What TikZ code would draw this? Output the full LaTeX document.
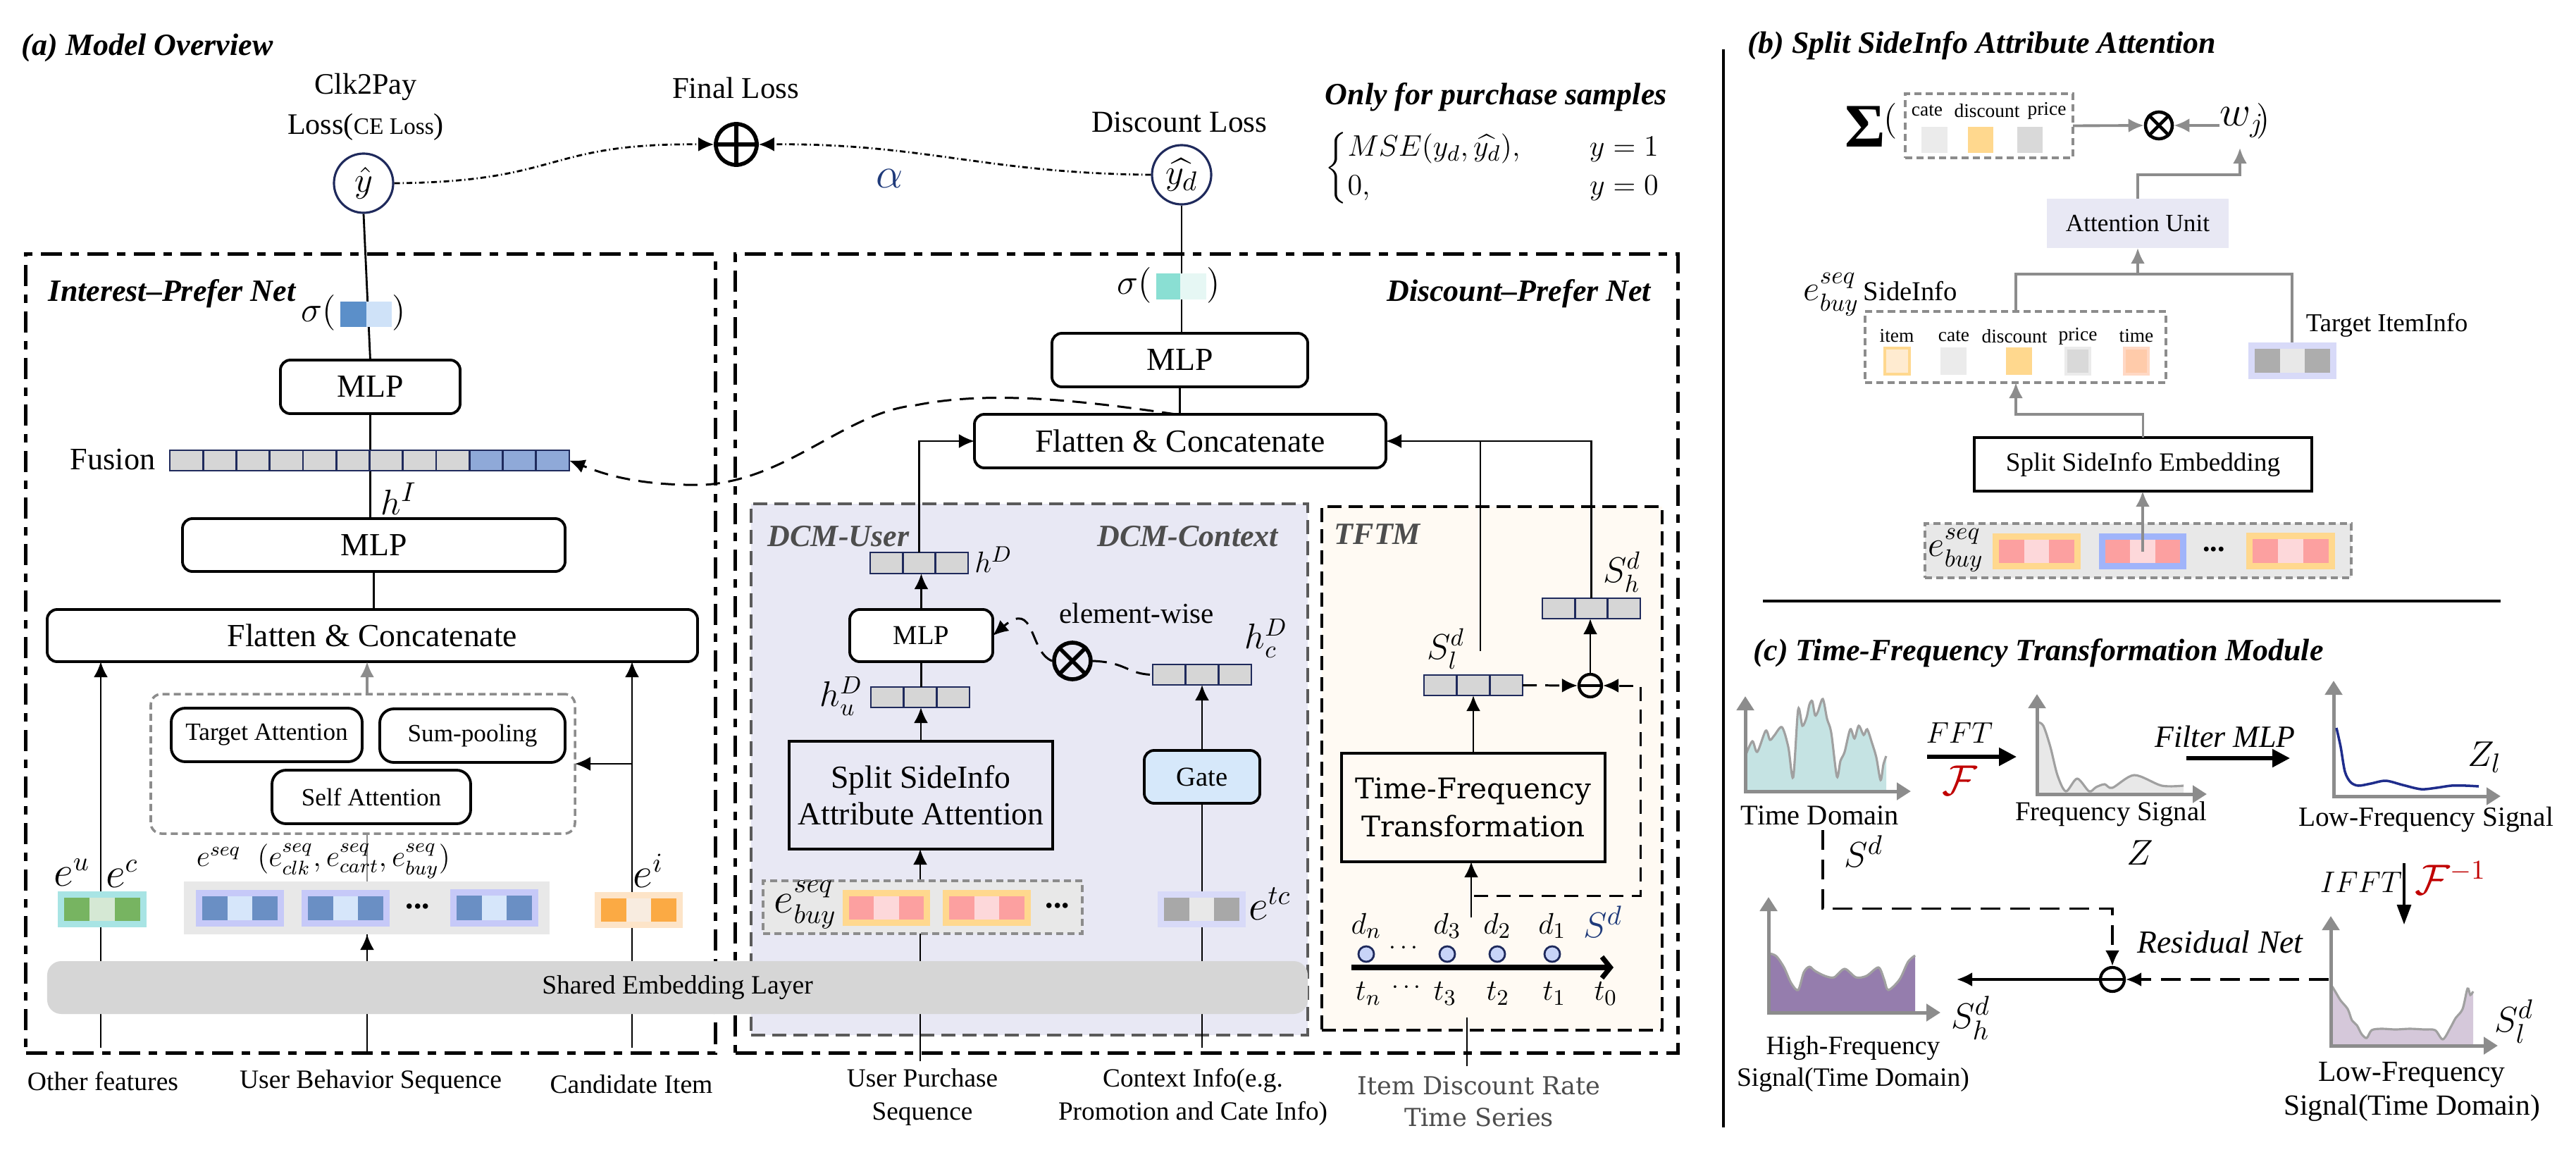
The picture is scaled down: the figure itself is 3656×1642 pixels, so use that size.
\documentclass[tikz,border=0pt]{standalone}
\usepackage{amsmath}
\usepackage{fontspec}
\setmainfont{Liberation Serif}
\newfontfamily\dvs{DejaVu Serif}
\usetikzlibrary{arrows.meta,calc}
\definecolor{navy}{HTML}{1F2A5C}
\definecolor{gline}{HTML}{8C8C8C}
\definecolor{dcmfill}{HTML}{E8E8F4}
\definecolor{dcmline}{HTML}{5A5A5A}
\definecolor{tftfill}{HTML}{FFFAF3}
\definecolor{cellgrey}{HTML}{D6D6D6}
\definecolor{fusblue}{HTML}{8FA9D8}
\definecolor{darkg}{HTML}{4D4D4D}
\definecolor{fred}{HTML}{C00000}
\definecolor{alphac}{HTML}{1F3A7A}
\definecolor{sigblue}{HTML}{5B8FC9}
\definecolor{siglight}{HTML}{CFE2F8}
\definecolor{sigteal}{HTML}{8ADFD3}
\definecolor{sigtl}{HTML}{E6F7F4}
\definecolor{ucyan}{HTML}{A8E4E4}
\definecolor{ugreen}{HTML}{77B461}
\definecolor{ulgreen}{HTML}{D5E8D4}
\definecolor{sqout}{HTML}{C6C9F8}
\definecolor{sqblue}{HTML}{6A8FC4}
\definecolor{sqlight}{HTML}{D6E6FA}
\definecolor{orout}{HTML}{FDE4C8}
\definecolor{orng}{HTML}{FBAA44}
\definecolor{orlight}{HTML}{F8ECE0}
\definecolor{pkout}{HTML}{FFD88E}
\definecolor{pink1}{HTML}{FCA0A0}
\definecolor{pklight}{HTML}{FDD8DA}
\definecolor{tcout}{HTML}{D8DAF8}
\definecolor{tcgrey}{HTML}{A8A8A8}
\definecolor{tclight}{HTML}{E8E8E8}
\definecolor{bgbar}{HTML}{E8E8E8}
\definecolor{embg}{HTML}{D6D6D6}
\definecolor{gatef}{HTML}{D6E8FA}
\definecolor{dotf}{HTML}{C8D4F8}
\definecolor{bbout}{HTML}{A0B4FA}
\definecolor{tdfill}{HTML}{C5E3E3}
\definecolor{curveg}{HTML}{A0A0A0}
\definecolor{fqfill}{HTML}{E8E8E8}
\definecolor{lfcurve}{HTML}{1F2D8C}
\definecolor{hffill}{HTML}{957DAD}
\definecolor{lffill}{HTML}{D5C8DA}
\definecolor{cEB}{HTML}{EBEBEB}
\definecolor{cD9}{HTML}{D9D9D9}
\definecolor{itemf}{HTML}{FFEBD0}
\definecolor{timef}{HTML}{FFCBAA}
\definecolor{timeb}{HTML}{FFD8C4}
\definecolor{tgtg}{HTML}{ADADAD}
\newcommand\fs[1]{\fontsize{#1}{#1}\selectfont}
% [style]{name}{x1}{y1}{x2}{y2}{text}
\newcommand\bx[7][]{%
  \pgfmathsetmacro\bxw{(#5-(#3))*0.01}%
  \pgfmathsetmacro\bxh{(#6-(#4))*0.01}%
  \node[inner sep=0pt, outer sep=0pt, minimum width=\bxw cm, minimum height=\bxh cm, #1] (#2) at ({(#3+#5)/2},{(#4+#6)/2}) {#7};}
% {name}{x1}{y1}{x2}{y2}{outer}{side}{mid}
\newcommand\blk[8]{%
  \bx[fill=#6]{#1}{#2}{#3}{#4}{#5}{}%
  \pgfmathsetmacro\bkw{(#4-(#2)-18)/3}%
  \pgfmathsetmacro\bkh{#5-(#3)-18}%
  \fill[#7] ({#2+9},{#3+9}) rectangle ++(\bkw,\bkh);
  \fill[#8] ({#2+9+\bkw},{#3+9}) rectangle ++(\bkw,\bkh);
  \fill[#7] ({#2+9+2*\bkw},{#3+9}) rectangle ++(\bkw,\bkh);}
% {name}{x1}{y1}{x2}{y2}{n-1}{fill}
\newcommand\vbar[7]{%
  \bx[draw=navy, line width=0.8pt, fill=#7]{#1}{#2}{#3}{#4}{#5}{}%
  \pgfmathsetmacro\vbw{(#4-(#2))/(#6+1)}%
  \foreach \k in {1,...,#6} {\draw[navy, line width=0.8pt] ({#2+\k*\vbw},#3) -- ({#2+\k*\vbw},#5);}}
\begin{document}
\begin{tikzpicture}[x=0.01cm,y=-0.01cm,
  every node/.append style={inner sep=1.2pt},
  >={Latex[length=0.22cm,width=0.2cm]},
  rbox/.style={draw, line width=1.1pt, rounded corners=0.14cm, fill=white},
  arr/.style={->, line width=0.8pt},
  garr/.style={->, line width=1.1pt, gline},
  ddot/.style={line width=0.8pt, dash pattern=on 0.08cm off 0.04cm on 0.015cm off 0.04cm},
  dsh/.style={line width=0.85pt, dash pattern=on 0.2cm off 0.12cm},
  dshc/.style={line width=0.9pt, dash pattern=on 0.28cm off 0.14cm},
  gdash/.style={draw=gline, line width=1pt, dash pattern=on 0.1cm off 0.06cm},
  outerbox/.style={draw, line width=0.05cm, dash pattern=on 0.3cm off 0.12cm on 0.12cm off 0.12cm},
  axis/.style={line width=0.05cm, gline, {Triangle[length=0.2cm,width=0.24cm]}-{Triangle[length=0.2cm,width=0.24cm]}},
  opnode/.style={circle, draw, line width=1.6pt, inner sep=0pt},
  bi/.style={font={\fs{12.5}\bfseries\itshape}},
]
\useasboundingbox (0,0) rectangle (3656,1642);
\fill[white] (0,0) rectangle (3656,1642);

%================ top of (a)
\node[anchor=west, bi] (ta) at (26,68) {(a) Model Overview};
\node[font=\fs{12}] (clk) at (519,123) {Clk2Pay};
\node[font=\fs{12}] (clk2) at (519,180) {Loss({\fs{9.5}CE Loss})};
\node[circle, draw=navy, line width=0.9pt, minimum size=0.84cm, inner sep=0pt, font=\fs{15}] (yhat) at (516,260) {$\hat{y}$};
\node[font=\fs{12.2}] (flab) at (1044,125) {Final Loss};
\node[opnode, minimum size=0.58cm] (oplus) at (1045,205) {};
\draw[line width=1.6pt] (oplus.north) -- (oplus.south) (oplus.west) -- (oplus.east);
\node[font=\fs{16}, text=alphac] (alpha) at (1263,253) {$\alpha$};
\node[font=\fs{12.3}] (dlab) at (1674,173) {Discount Loss};
\node[circle, draw=navy, line width=0.9pt, minimum size=0.84cm, inner sep=0pt, font=\fs{15}] (yd) at (1677,248) {$\widehat{y_d}$};
\draw[ddot, ->] (yhat.east) .. controls (800,258) and (770,203) .. (oplus.west);
\draw[ddot, ->] (yd.west) .. controls (1400,246) and (1310,203) .. (oplus.east);
\node[anchor=west, bi] (ofp) at (1876,138) {Only for purchase samples};
\node[anchor=west, font=\fs{13}] (cases) at (1876,238) {$\begin{cases} MSE(y_d,\widehat{y_d}), & \quad\, y=1\\ 0, & \quad\, y=0\end{cases}$};

%================ Interest-Prefer Net
\bx[outerbox]{ibox}{37}{361}{1015}{1494}{}
\node[anchor=west, bi] (ipn) at (64,417) {Interest--Prefer Net};
\bx[rbox, font=\fs{13}]{mlp1}{398}{511}{653}{587}{MLP}
\bx[rbox, font=\fs{13}]{mlp2}{259}{736}{802}{811}{MLP}
\bx[rbox, font=\fs{13}]{fc1}{67}{865}{990}{939}{Flatten \& Concatenate}
\draw[line width=0.8pt] (yhat.south) -- (mlp1.north);
\draw[line width=0.8pt] (mlp1.south) -- (mlp1.south |- mlp2.north);
\draw[line width=0.8pt] (mlp2.south) -- (mlp2.south |- fc1.north);
\node[font=\fs{14}, anchor=east] (sig1) at (482,444) {$\sigma($};
\bx{s1}{483}{428}{556}{464}{}
\fill[sigblue] (483,428) rectangle (520,464);
\fill[siglight] (520,428) rectangle (556,464);
\node[font=\fs{14}] (sig1r) at (566,444) {$)$};
\node[font=\fs{12.6}] (fus) at (160,652) {Fusion};
\bx{fbar}{241}{639}{808}{668}{}
\foreach \k in {0,...,11} {\pgfmathsetmacro\xa{241+\k*47.25}\ifnum\k<9 \def\cc{cellgrey}\else\def\cc{fusblue}\fi
  \filldraw[fill=\cc, draw=navy, line width=0.8pt] (\xa,639) rectangle ++(47.25,29);}
\node[font=\fs{15}] (hI) at (566,708) {$h^I$};
\bx[gdash, rounded corners=0.15cm]{gbox}{214}{985}{816}{1183}{}
\bx[rbox, rounded corners=0.2cm, font=\fs{10}]{tatt}{243}{1005}{514}{1081}{Target Attention}
\bx[rbox, rounded corners=0.2cm, font=\fs{10}]{spool}{539}{1006}{802}{1082}{Sum-pooling}
\bx[rbox, rounded corners=0.2cm, font=\fs{10}]{satt}{386}{1093}{668}{1169}{Self Attention}
\coordinate (of) at (143,1487);
\coordinate (ub) at (521,1494);
\coordinate (ci) at (897,1487);
\draw[arr] (of) -- (of |- fc1.south);
\draw[arr] (ci) -- (ci |- fc1.south);
\draw[arr] (ci |- gbox.east) -- (gbox.east);
\draw[line width=0.8pt] (ub) -- (ub |- gbox.south);
\draw[gline, line width=0.8pt] (ub |- gbox.south) -- ++(0,68);
\draw[garr] (ub |- gbox.north) -- (ub |- fc1.south);
\node[font=\fs{16}] (eu) at (102,1238) {$e^u$};
\node[font=\fs{16}] (ec) at (173,1240) {$e^c$};
\node[font=\fs{12}, anchor=west] (eseq) at (274,1222) {$e^{seq}\;\;(e^{seq}_{clk},e^{seq}_{cart},e^{seq}_{buy})$};
\node[font=\fs{16}] (ei) at (920,1236) {$e^i$};
\blk{bu}{82}{1265}{208}{1316}{ucyan}{ugreen}{ulgreen}
\bx[fill=bgbar]{sqbar}{261}{1251}{780}{1326}{}
\blk{sq1}{278}{1263}{403}{1315}{sqout}{sqblue}{sqlight}
\blk{sq2}{428}{1263}{553}{1315}{sqout}{sqblue}{sqlight}
\blk{sq3}{639}{1262}{764}{1315}{sqout}{sqblue}{sqlight}
\node[font=\fs{13}\bfseries] (sqd) at (593,1286) {...};
\blk{bi}{844}{1266}{969}{1317}{orout}{orng}{orlight}

%================ Discount-Prefer Net
\bx[outerbox]{dbox}{1044}{361}{2381}{1494}{}
\node[anchor=east, bi] (dpn) at (2348,417) {Discount--Prefer Net};
\bx[rbox, font=\fs{13}]{mlp3}{1493}{473}{1856}{549}{MLP}
\bx[rbox, font=\fs{13}]{fc2}{1383}{588}{1967}{664}{Flatten \& Concatenate}
\draw[line width=0.8pt] (yd.south) -- (yd.south |- mlp3.north);
\draw[line width=0.8pt] (mlp3.south) -- (mlp3.south |- fc2.north);
\node[font=\fs{14}, anchor=east] (sig2) at (1640,405) {$\sigma($};
\bx{s2}{1641}{388}{1712}{425}{}
\fill[sigteal] (1641,388) rectangle (1675,425);
\fill[sigtl] (1675,388) rectangle (1712,425);
\node[font=\fs{14}] (sig2r) at (1722,405) {$)$};
\draw[dsh, ->] (1669,588) .. controls (1520,566) and (1400,555) .. (1300,575) .. controls (1200,585) and (1120,680) .. (1000,688) .. controls (900,690) and (850,670) .. (fbar.east);

\bx[fill=dcmfill, draw=dcmline, line width=1.2pt, dash pattern=on 0.2cm off 0.1cm]{dcm}{1066}{715}{1856}{1469}{}
\node[anchor=west, text=darkg, bi] (dcmu) at (1085,761) {DCM-User};
\node[anchor=east, text=darkg, bi] (dcmc) at (1819,761) {DCM-Context};
\bx[fill=tftfill, draw, line width=1.3pt, dash pattern=on 0.2cm off 0.1cm]{tftm}{1876}{719}{2359}{1462}{}
\node[anchor=west, text=darkg, bi] (tftml) at (1889,758) {TFTM};

\vbar{hD}{1235}{784}{1374}{814}{2}{cellgrey}
\node[font=\fs{13}] (hDl) at (1410,794) {$h^D$};
\bx[rbox, font=\fs{11}]{mlp4}{1206}{865}{1409}{939}{MLP}
\node[font=\fs{11.7}] (ew) at (1613,870) {element-wise};
\node[opnode, minimum size=0.52cm] (otimes) at (1522,938) {};
\draw[line width=1.6pt] (otimes.45) -- (otimes.225) (otimes.135) -- (otimes.315);
\vbar{hc}{1636}{943}{1776}{972}{2}{cellgrey}
\node[font=\fs{14}] (hcl) at (1797,906) {$h_c^D$};
\vbar{hu}{1236}{975}{1376}{1004}{2}{cellgrey}
\node[font=\fs{14}] (hul) at (1194,988) {$h_u^D$};
\bx[draw, line width=1.1pt, align=center, font=\fontsize{13}{15}\selectfont]{ssaa}{1120}{1052}{1494}{1205}{Split SideInfo\\Attribute Attention}
\bx[rbox, fill=gatef, font=\fs{11}]{gate}{1624}{1065}{1788}{1140}{Gate}
\draw[arr] (hD.north) |- (fc2.west);
\draw[arr] (mlp4.north) -- (mlp4.north |- hD.south);
\draw[line width=0.8pt] (mlp4.south) -- (mlp4.south |- hu.north);
\draw[arr] (ssaa.north) -- (ssaa.north |- hu.south);
\draw[arr] (gate.north) -- (gate.north |- hc.south);
\draw[dsh] (otimes.east) .. controls (1600,940) and (1600,957) .. (hc.west);
\draw[dsh, ->] (otimes.west) .. controls (1460,925) and (1470,850) .. (mlp4.east);
\coordinate (up) at (1306,1506);
\coordinate (ctx) at (1706,1487);
\draw[arr] (up) -- (up |- ssaa.south);
\draw[line width=0.8pt] (ctx) -- (ctx |- gate.south);
\bx[fill=bgbar, gdash]{ebar}{1083}{1250}{1536}{1325}{}
\node[font=\fs{16}] (ebl) at (1143,1284) {$e_{buy}^{seq}$};
\blk{eb1}{1196}{1263}{1320}{1314}{pkout}{pink1}{pklight}
\blk{eb2}{1338}{1263}{1463}{1314}{pkout}{pink1}{pklight}
\node[font=\fs{13}\bfseries] (ebd) at (1501,1285) {...};
\blk{etc}{1643}{1265}{1768}{1316}{tcout}{tcgrey}{tclight}
\node[font=\fs{16}] (etcl) at (1802,1283) {$e^{tc}$};

% TFTM contents
\vbar{sh}{2189}{849}{2328}{878}{2}{cellgrey}
\node[font=\fs{14}] (shl) at (2302,812) {$S_h^d$};
\vbar{sl}{2021}{958}{2161}{987}{2}{cellgrey}
\node[font=\fs{14}] (sll) at (2052,921) {$S_l^d$};
\node[circle, draw, line width=1.2pt, minimum size=0.32cm, inner sep=0pt] (ominus) at (2257,973) {};
\draw[line width=1.2pt] (ominus.west) -- (ominus.east);
\bx[draw, line width=1.1pt, align=center, font={\dvs\fontsize{11.5}{15.5}\selectfont}]{tft}{1904}{1069}{2278}{1223}{Time-Frequency\\Transformation}
\draw[arr] (tft.north) -- (tft.north |- sl.south);
\coordinate (tin) at (2088,1302);
\draw[arr] (tin) -- (tin |- tft.south);
\coordinate (rs) at (2092,1271);
\coordinate (rc) at (2328,1271);
\draw[dsh, ->] (rs) -- (rc) -- (rc |- ominus.east) -- (ominus.east);
\draw[dsh, ->] (sl.east) -- (ominus.west);
\draw[arr] (ominus.north) -- (ominus.north |- sh.south);
\draw[arr] (sh.north) |- (fc2.east);
\coordinate (slt) at (2101,924);
\draw[line width=0.8pt] (slt) -- (slt |- fc2.east);
\foreach \x/\n in {1939/dn,2054/dthree,2125/dtwo,2203/done} {
  \node[circle, draw=navy, fill=dotf, line width=0.8pt, minimum size=0.22cm, inner sep=0pt] (\n) at (\x,1354) {};}
\node[font=\fs{12.5}] (dnl) at (1939,1314) {$d_n$};
\node[font=\fs{12.5}] (d3l) at (2054,1314) {$d_3$};
\node[font=\fs{12.5}] (d2l) at (2125,1314) {$d_2$};
\node[font=\fs{12.5}] (d1l) at (2203,1314) {$d_1$};
\node[font=\fs{10}] (tdots) at (1995,1346) {$\cdots$};
\node[font=\fs{15}, text=alphac] (sdl) at (2275,1308) {$S^d$};
\coordinate (tl0) at (1918,1373);
\coordinate (tl1) at (2290,1373);
\draw[line width=2pt, -{Straight Barb[length=0.12cm,width=0.3cm]}] (tl0) -- (tl1);
\node[font=\fs{12.5}] (tnl) at (1942,1410) {$t_n$};
\node[font=\fs{10}] (tdots2) at (1999,1402) {$\cdots$};
\node[font=\fs{12.5}] (t3l) at (2051,1410) {$t_3$};
\node[font=\fs{12.5}] (t2l) at (2126,1410) {$t_2$};
\node[font=\fs{12.5}] (t1l) at (2206,1410) {$t_1$};
\node[font=\fs{12.5}] (t0l) at (2279,1410) {$t_0$};
\coordinate (idr) at (2082,1513);
\draw[line width=0.8pt] (idr) -- (2082,1444);

%================ shared embedding and bottom labels
\bx[fill=embg, rounded corners=0.2cm, font=\fs{10.7}]{emb}{67}{1364}{1856}{1439}{Shared Embedding Layer}
\draw[arr] (ub |- emb.north) -- (ub |- sqbar.south);
\node[font=\fs{10.7}] (lof) at (146,1534) {Other features};
\node[font=\fs{10.7}] (lub) at (526,1535) {User Behavior Sequence};
\node[font=\fs{10.7}] (lci) at (896,1539) {Candidate Item};
\node[align=center, font=\fontsize{10.6}{13.4}\selectfont] (lup) at (1309,1557) {User Purchase\\Sequence};
\node[align=center, font=\fontsize{10.6}{13.4}\selectfont] (lctx) at (1693,1557) {Context Info(e.g.\\Promotion and Cate Info)};
\node[align=center, text=darkg, font={\dvs\fontsize{10}{12.8}\selectfont}] (lidr) at (2099,1563) {Item Discount Rate\\Time Series};

%================ panel (b)
\draw[line width=1.2pt] (2446,70) -- (2446,1600);
\node[anchor=west, bi] (tb) at (2476,65) {(b) Split SideInfo Attribute Attention};
\node[font={\fs{25}\bfseries}] (sumb) at (2647,180) {Σ};
\node[font=\fs{15}] (lpb) at (2683,172) {$($};
\bx[gdash]{wbox}{2704}{133}{2942}{224}{}
\node[font=\fs{7.8}] at (2735,157) {cate};
\node[font=\fs{7.8}] at (2820,157) {discount};
\node[font=\fs{7.8}] at (2905,157) {price};
\fill[cEB] (2727,180) rectangle (2764,217);
\fill[pkout] (2793,180) rectangle (2829,217);
\fill[cD9] (2863,180) rectangle (2899,217);
\node[opnode, line width=1.3pt, minimum size=0.38cm] (otb) at (3064,178) {};
\draw[line width=1.3pt] (otb.45) -- (otb.225) (otb.135) -- (otb.315);
\node[font=\fs{16}] (wj) at (3182,174) {$w_j$};
\node[font=\fs{15}] (rpb) at (3212,172) {$)$};
\draw[garr] (wbox.east) -- (otb.west);
\draw[garr] (3150,178) -- (otb.east);
\bx[fill=dcmfill, font=\fs{10}]{au}{2905}{282}{3163}{352}{Attention Unit}
\draw[garr] (au.north) |- (3179,248) -- (3179,210);
\node[anchor=west, font=\fs{11}] (sil) at (2555,418) {{\fs{14}$e_{buy}^{seq}$}\,SideInfo};
\bx[gdash]{sib}{2647}{442}{3074}{543}{}
\node[font=\fs{7.8}] at (2692,477) {item};
\node[font=\fs{7.8}] at (2773,477) {cate};
\node[font=\fs{7.8}] at (2859,477) {discount};
\node[font=\fs{7.8}] at (2949,477) {price};
\node[font=\fs{7.8}] at (3032,477) {time};
\filldraw[fill=itemf, draw=pkout, line width=1pt] (2675,494) rectangle (2710,531);
\fill[cEB] (2754,493) rectangle (2791,532);
\fill[pkout] (2847,493) rectangle (2884,532);
\filldraw[fill=cD9, draw=cEB, line width=1pt] (2932,494) rectangle (2966,531);
\filldraw[fill=timef, draw=timeb, line width=1pt] (3015,494) rectangle (3049,531);
\node[anchor=west, font=\fs{10.4}] (tgl) at (3268,462) {Target ItemInfo};
\blk{tgt}{3191}{486}{3316}{538}{tcout}{tgtg}{tclight}
\coordinate (jl) at (2861,389);
\coordinate (jr) at (3253,389);
\draw[gline, line width=1.1pt] (jl |- sib.north) -- (jl) -- (jr) -- (jr |- tgt.north);
\draw[garr] (au.south |- jl) -- (au.south);
\bx[draw, line width=1.3pt, font=\fs{10.6}]{sse}{2802}{621}{3281}{697}{Split SideInfo Embedding}
\coordinate (sb) at (2861,588);
\draw[garr] (sse.north) |- (sb) -- (sb |- sib.south);
\bx[fill=bgbar, gdash]{ebb}{2732}{743}{3337}{820}{}
\node[font=\fs{14}] (ebbl) at (2776,781) {$e_{buy}^{seq}$};
\blk{bb1}{2828}{757}{2953}{808}{pkout}{pink1}{pklight}
\blk{bb2}{2979}{757}{3103}{808}{bbout}{pink1}{pklight}
\blk{bb3}{3188}{756}{3314}{808}{pkout}{pink1}{pklight}
\node[font=\fs{12}\bfseries] (bbd) at (3142,780) {...};
\draw[garr] (bb2.center) -- (bb2.center |- sse.south);
\draw[line width=1.3pt] (2502,853) -- (3549,853);

%================ panel (c)
\node[anchor=west, bi] (tc) at (2484,927) {(c) Time-Frequency Transformation Module};
% time domain
\fill[tdfill] (2477,1123) -- plot[smooth] coordinates {(2477,1073) (2487,1052) (2494,1067) (2506,1037) (2512,1050) (2518,1044) (2529,1032) (2538,1060) (2545,1103) (2552,1007) (2558,1030) (2564,1018) (2568,1000) (2572,995) (2576,1015) (2580,1010) (2587,992) (2593,1020) (2599,1040) (2607,1102) (2612,1080) (2618,1067) (2626,1035) (2632,1048) (2638,1030) (2645,1043) (2650,1035) (2657,1055) (2663,1075) (2669,1107) (2673,1085) (2677,1073)} -- (2677,1123) -- cycle;
\draw[curveg, line width=0.9pt] plot[smooth] coordinates {(2477,1073) (2487,1052) (2494,1067) (2506,1037) (2512,1050) (2518,1044) (2529,1032) (2538,1060) (2545,1103) (2552,1007) (2558,1030) (2564,1018) (2568,1000) (2572,995) (2576,1015) (2580,1010) (2587,992) (2593,1020) (2599,1040) (2607,1102) (2612,1080) (2618,1067) (2626,1035) (2632,1048) (2638,1030) (2645,1043) (2650,1035) (2657,1055) (2663,1075) (2669,1107) (2673,1085) (2677,1073)};
\draw[axis] (2477,988) -- (2477,1123) -- (2712,1123);
\node[font=\fs{11.5}] (tdl) at (2583,1157) {Time Domain};
\node[font=\fs{15}] (sdc) at (2645,1208) {$S^d$};
\node[font=\fs{13}] (fft) at (2781,1040) {$FFT$};
\draw[line width=1.5pt, -{Triangle[length=0.25cm,width=0.25cm]}] (2735,1074) -- (2862,1074);
\node[font=\fs{16}, text=fred] (ff) at (2781,1108) {$\mathcal{F}$};
% frequency
\fill[fqfill] (2891,1127) -- plot[smooth] coordinates {(2892,1025) (2900,1030) (2910,1060) (2920,1100) (2932,1123) (2948,1105) (2965,1123) (2975,1117) (2987,1113) (2998,1118) (3029,1100) (3068,1115) (3099,1115)} -- (3099,1127) -- cycle;
\draw[curveg, line width=0.9pt] plot[smooth] coordinates {(2892,1025) (2900,1030) (2910,1060) (2920,1100) (2932,1123) (2948,1105) (2965,1123) (2975,1117) (2987,1113) (2998,1118) (3029,1100) (3068,1115) (3099,1115)};
\draw[axis] (2891,985) -- (2891,1127) -- (3132,1127);
\node[font=\fs{11}] (fsl) at (2996,1155) {Frequency Signal};
\node[font=\fs{15}] (zl) at (3037,1210) {$Z$};
\node[font=\fs{12.5}] (fmlp) at (3158,1045) {$\mathit{Filter\ MLP}$};
\draw[line width=1.5pt, -{Triangle[length=0.25cm,width=0.25cm]}] (3103,1076) -- (3250,1076);
% low freq
\draw[axis] (3312,966) -- (3312,1130) -- (3549,1130);
\draw[lfcurve, line width=1pt] plot[smooth] coordinates {(3316,1033) (3322,1060) (3328,1095) (3336,1110) (3347,1115) (3365,1112) (3386,1108) (3410,1114) (3436,1120) (3458,1118) (3479,1115) (3500,1115) (3518,1116)};
\node[font=\fs{15}] (zll) at (3526,1075) {$Z_l$};
\node[font=\fs{11.2}] (lfs) at (3443,1163) {Low-Frequency Signal};
\node[font=\fs{12.5}] (ifft) at (3351,1252) {$IFFT$};
\coordinate (ia) at (3412,1225);
\draw[line width=0.9pt, -{Triangle[length=0.28cm,width=0.2cm]}] (ia) -- (3412,1312);
\node[font=\fs{16}, text=fred] (ffi) at (3478,1246) {$\mathcal{F}^{-1}$};
% high freq time domain
\fill[hffill] (2510,1437) -- plot[smooth] coordinates {(2511,1353) (2521,1357) (2532,1373) (2542,1395) (2552,1405) (2560,1380) (2568,1372) (2576,1378) (2590,1385) (2603,1387) (2618,1375) (2634,1387) (2649,1385) (2666,1373) (2674,1390) (2680,1405) (2696,1390) (2708,1365) (2718,1356)} -- (2718,1437) -- cycle;
\draw[curveg, line width=0.9pt] plot[smooth] coordinates {(2511,1353) (2521,1357) (2532,1373) (2542,1395) (2552,1405) (2560,1380) (2568,1372) (2576,1378) (2590,1385) (2603,1387) (2618,1375) (2634,1387) (2649,1385) (2666,1373) (2674,1390) (2680,1405) (2696,1390) (2708,1365) (2718,1356)};
\draw[axis] (2510,1273) -- (2510,1437) -- (2754,1437);
\node[font=\fs{15}] (shc) at (2797,1445) {$S_h^d$};
\node[align=center, font=\fontsize{10.7}{12.8}\selectfont] (hfl) at (2630,1510) {High-Frequency\\Signal(Time Domain)};
% residual
\node[circle, draw, line width=1.2pt, minimum size=0.34cm, inner sep=0pt] (omc) at (2998,1390) {};
\draw[line width=1.2pt] (omc.west) -- (omc.east);
\coordinate (hfe) at (2777,1390);
\draw[line width=0.9pt, ->] (omc.west) -- (hfe);
\coordinate (sdd) at (2587,1178);
\draw[dshc, ->] (sdd) |- ($(omc.north)+(0,-81)$) -- (omc.north);
\node[font=\fs{13}] (rn) at (3151,1337) {$\mathit{Residual\ Net}$};
\coordinate (lft) at (3305,1390);
\draw[dshc, ->] (lft) -- (omc.east);
% low freq time domain
\fill[lffill] (3308,1484) -- plot[smooth] coordinates {(3310,1400) (3316,1410) (3322,1420) (3332,1432) (3338,1448) (3345,1455) (3352,1468) (3359,1473) (3366,1462) (3380,1460) (3400,1461) (3420,1460) (3440,1461) (3456,1462) (3467,1475) (3478,1458) (3485,1445) (3495,1432) (3502,1403) (3506,1412) (3510,1407)} -- (3510,1484) -- cycle;
\draw[curveg, line width=0.9pt] plot[smooth] coordinates {(3310,1400) (3316,1410) (3322,1420) (3332,1432) (3338,1448) (3345,1455) (3352,1468) (3359,1473) (3366,1462) (3380,1460) (3400,1461) (3420,1460) (3440,1461) (3456,1462) (3467,1475) (3478,1458) (3485,1445) (3495,1432) (3502,1403) (3506,1412) (3510,1407)};
\draw[axis] (3308,1300) -- (3308,1484) -- (3545,1484);
\node[font=\fs{15}] (slc) at (3568,1450) {$S_l^d$};
\node[align=center, font=\fontsize{11.8}{13.7}\selectfont] (lfl) at (3423,1549) {Low-Frequency\\Signal(Time Domain)};
\end{tikzpicture}
\end{document}
